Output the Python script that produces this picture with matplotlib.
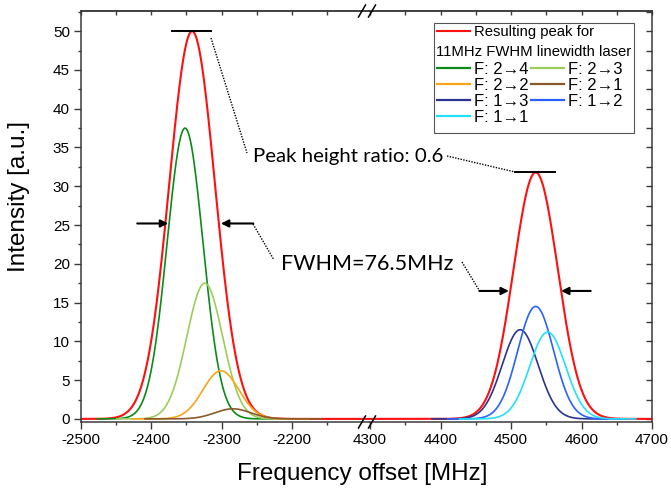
import numpy as np
import matplotlib
matplotlib.use("Agg")
import matplotlib.pyplot as plt
from matplotlib.lines import Line2D
from matplotlib.patches import Rectangle
from matplotlib.ticker import FixedLocator, MultipleLocator

plt.rcParams['font.family'] = ['Liberation Sans', 'DejaVu Sans']
plt.rcParams['axes.unicode_minus'] = False

# ---------------- data ----------------
comp_labels = ['F: 2→4', 'F: 2→3', 'F: 2→2', 'F: 2→1', 'F: 1→3', 'F: 1→2', 'F: 1→1']
comp_centers = [-2352, -2324, -2301, -2284, 4513, 4535, 4552]      # MHz
comp_heights = [37.5, 17.5, 6.2, 1.3, 11.5, 14.5, 11.2]            # a.u.
comp_fwhm = [60, 60, 60, 60, 60, 60, 60]                           # MHz
comp_colors = ['#0b8a1a', '#9ccc5a', '#f9a51a', '#8b5a2b', '#2b3590', '#2962ff', '#22e0f8']

res_label = 'Resulting peak for'
res_centers = [-2342, 4535]
res_heights = [50.0, 31.8]
res_fwhm = [76.5, 74.0]

left_range = [-2500, -2089]
right_range = [4300, 4700]
x_ticks_left = [-2500, -2400, -2300, -2200]
x_ticks_right = [4300, 4400, 4500, 4600, 4700]
y_ticks = [0, 5, 10, 15, 20, 25, 30, 35, 40, 45, 50]

W, H = 671, 491
fig = plt.figure(figsize=(W / 100, H / 100), dpi=100)

def fx(p):
    return p / W

def fy(p):
    return 1 - p / H

def gauss(x, c, h, w):
    return h * np.exp(-4 * np.log(2) * (x - c) ** 2 / w ** 2)

ax1 = fig.add_axes([fx(81), fy(422), fx(370) - fx(81), fy(11) - fy(422)])
ax2 = fig.add_axes([fx(370), fy(422), fx(652) - fx(370), fy(11) - fy(422)])

spine_c = '#3a3a3a'
for ax, rng in ((ax1, left_range), (ax2, right_range)):
    x = np.linspace(rng[0], rng[1], 1200)
    y = np.zeros_like(x)
    for c, h, w in zip(res_centers, res_heights, res_fwhm):
        y = y + gauss(x, c, h, w)
    ax.plot(x, y, color='#ff1010', lw=1.5, zorder=2, label=res_label)
    ax.set_xlim(rng)
    ax.set_ylim(-0.4, 52.6)
    for s in ax.spines.values():
        s.set_color(spine_c)
        s.set_linewidth(1.1)

handles = []
for lab, c, h, w, col in zip(comp_labels, comp_centers, comp_heights, comp_fwhm, comp_colors):
    ax = ax1 if c < 0 else ax2
    x = np.linspace(c - 125, c + 125, 400)
    ln, = ax.plot(x, gauss(x, c, h, w), color=col, lw=1.2, zorder=3, label=lab)
    handles.append(ln)
red_handle = ax1.lines[0]

# spines / ticks
ax1.spines['right'].set_visible(False)
ax2.spines['left'].set_visible(False)
ax1.xaxis.set_major_locator(FixedLocator(x_ticks_left))
ax1.xaxis.set_minor_locator(FixedLocator([-2450, -2350, -2250, -2150]))
ax2.xaxis.set_major_locator(FixedLocator(x_ticks_right))
ax2.xaxis.set_minor_locator(FixedLocator([4350, 4450, 4550, 4650]))
for ax in (ax1, ax2):
    ax.yaxis.set_major_locator(FixedLocator(y_ticks))
    ax.yaxis.set_minor_locator(MultipleLocator(2.5))
    ax.tick_params(axis='x', which='major', direction='out', length=5, width=1, color=spine_c,
                   labelsize=11, pad=3, top=False)
    ax.tick_params(axis='x', which='minor', direction='out', length=2.5, width=1, color=spine_c, top=False)
ax1.tick_params(axis='y', which='major', direction='out', length=5, width=1, color=spine_c,
                labelsize=11, pad=3, right=False)
ax1.tick_params(axis='y', which='minor', direction='out', length=2.5, width=1, color=spine_c, right=False)
ax2.tick_params(axis='y', which='both', left=False, labelleft=False, right=True,
                direction='in', length=4, width=1, color=spine_c)

# mirrored ticks on top (inward)
for ax in (ax1, ax2):
    sec = ax.secondary_xaxis('top')
    sec.xaxis.set_major_locator(ax.xaxis.get_major_locator())
    sec.xaxis.set_minor_locator(ax.xaxis.get_minor_locator())
    sec.tick_params(which='both', direction='in', length=3, width=1, color=spine_c, labeltop=False)
    sec.spines['top'].set_color(spine_c)
    sec.spines['top'].set_linewidth(1.1)

# axis labels
fig.text(fx(362), fy(474), 'Frequency offset [MHz]', fontsize=17.5, ha='center', va='center')
fig.text(fx(19), fy(196), 'Intensity [a.u.]', fontsize=17.5, ha='center', va='center', rotation=90)

# break marks
def inch(px, py):
    return (px / 100, (H - py) / 100)

for cx in (362, 372):
    for yy in (11, 422):
        p0 = inch(cx - 3.5, yy + 6)
        p1 = inch(cx + 3.5, yy - 6)
        fig.add_artist(Line2D([p0[0], p1[0]], [p0[1], p1[1]], transform=fig.dpi_scale_trans,
                              color='black', lw=1.1, zorder=10))

# annotations: peak markers and FWHM arrows
ax1.plot([-2370, -2315], [50, 50], color='black', lw=1.4, zorder=4)
ax2.plot([4506, 4562], [31.8, 31.8], color='black', lw=1.4, zorder=4)
arw = dict(arrowstyle='-|>', color='black', lw=1.5, mutation_scale=11, shrinkA=0, shrinkB=0)
ax1.annotate('', xy=(-2376, 25.2), xytext=(-2420, 25.2), arrowprops=arw)
ax1.annotate('', xy=(-2301, 25.2), xytext=(-2255, 25.2), arrowprops=arw)
ax2.annotate('', xy=(4497, 16.5), xytext=(4455, 16.5), arrowprops=arw)
ax2.annotate('', xy=(4571, 16.5), xytext=(4613, 16.5), arrowprops=arw)

for (a, b) in (((211, 38), (247, 153)), ((447, 156), (515, 172)),
               ((253, 224), (274, 260)), ((462, 262), (479, 290))):
    p0, p1 = inch(*a), inch(*b)
    fig.add_artist(Line2D([p0[0], p1[0]], [p0[1], p1[1]], transform=fig.dpi_scale_trans,
                          color='black', lw=1.0, ls=(0, (1, 1)), zorder=10))

t1 = fig.text(fx(253), fy(162), 'Peak height ratio: 0.6', fontsize=15, family='Lato',
              ha='left', va='baseline')
t2 = fig.text(fx(281), fy(270), 'FWHM=76.5MHz', fontsize=15, family='Lato',
              ha='left', va='baseline')
fig.canvas.draw()
r = fig.canvas.get_renderer()
for t, target in ((t1, 191), (t2, 172)):
    wpx = t.get_window_extent(r).width
    t.set_fontsize(t.get_fontsize() * target / wpx)

# legend
frame = Rectangle((fx(434), fy(133)), fx(634) - fx(434), fy(23) - fy(133), transform=fig.transFigure,
                  facecolor='white', edgecolor='#555555', lw=0.8, zorder=4)
fig.add_artist(frame)
leg1 = fig.legend(handles=[red_handle], labels=[res_label], loc='upper left',
                  bbox_to_anchor=(fx(437), fy(25)), bbox_transform=fig.transFigure,
                  frameon=False, fontsize=10.7, handlelength=2.2, handletextpad=0.27,
                  borderpad=0, borderaxespad=0)
leg1.set_zorder(6)
fig.text(fx(436), fy(52), '11MHz FWHM linewidth laser', fontsize=10.7, ha='left', va='center', zorder=6)
order = [0, 2, 4, 6, 1, 3, 5]
leg2 = fig.legend(handles=[handles[i] for i in order], labels=[comp_labels[i] for i in order],
                  ncol=2, loc='upper left', bbox_to_anchor=(fx(437), fy(62)),
                  bbox_transform=fig.transFigure, frameon=False, fontsize=12,
                  handlelength=2.0, handletextpad=0.25, columnspacing=0.1, labelspacing=0.05,
                  borderpad=0, borderaxespad=0)
leg2.set_zorder(6)
for lh in leg2.get_lines():
    lh.set_linewidth(1.6)

fig.savefig('out.png', dpi=100)
